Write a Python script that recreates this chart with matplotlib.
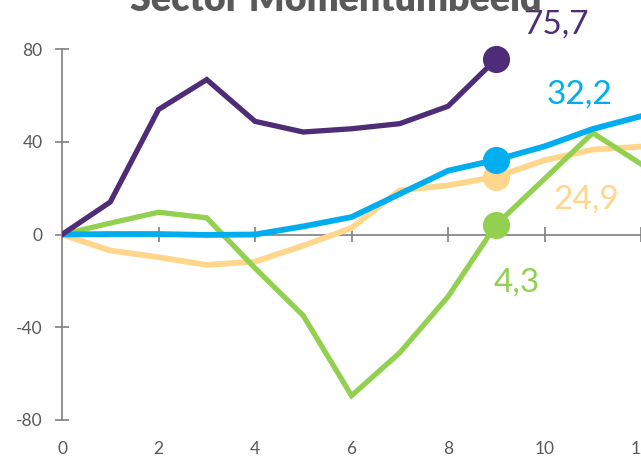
import matplotlib
matplotlib.use("Agg")
import matplotlib.pyplot as plt

plt.rcParams['font.family'] = ['Lato', 'DejaVu Sans']

title = "Sector Momentumbeeld"
x = [0, 1, 2, 3, 4, 5, 6, 7, 8, 9, 10, 11, 12]
purple = [0, 14.0, 53.9, 66.8, 48.8, 44.2, 45.6, 47.8, 55.3, 75.7]
blue = [0, 0.2, 0.2, -0.2, 0, 3.5, 7.5, 17.5, 27.5, 32.2, 38.0, 45.5, 51.0]
yellow = [0, -6.9, -9.8, -13.1, -11.7, -4.8, 2.8, 19.0, 21.2, 24.9, 32.0, 36.6, 37.9]
green = [0, 4.9, 9.6, 7.2, -14.5, -35.0, -69.5, -51.0, -26.8, 4.3, 24.0, 43.8, 30.4]
end_x = 9
end_labels = ["75,7", "32,2", "24,9", "4,3"]
yticks = [-80, -40, 0, 40, 80]
xticks = [0, 2, 4, 6, 8, 10, 12]

c_purple = "#4E2C78"
c_blue = "#00AEEF"
c_yellow = "#FFD68C"
c_green = "#92D050"

fig = plt.figure(figsize=(6.41, 4.58), dpi=100)
ax = fig.add_axes([62 / 641, 1 - 420 / 458, 1 - 62 / 641, (420 - 49) / 458])
ax.set_xlim(0, 11.88)
ax.set_ylim(-80, 80)

# zero line with tick marks
ax.axhline(0, color="#7F7F7F", lw=1.2, zorder=1)
ax.vlines(xticks[1:], -3.4, 3.4, color="#7F7F7F", lw=1.2, zorder=1)

series = [
    (yellow, c_yellow, 4.2, 2),
    (green, c_green, 3.8, 3),
    (blue, c_blue, 4.2, 4),
    (purple, c_purple, 3.8, 5),
]
for vals, col, lw, z in series:
    ax.plot(x[:len(vals)], vals, color=col, lw=lw, zorder=z, solid_joinstyle='miter')

end_vals = [purple[end_x], blue[end_x], yellow[end_x], green[end_x]]
end_cols = [c_purple, c_blue, c_yellow, c_green]
end_z = [5.5, 4.5, 2.5, 3.5]
offsets = [(19.5, 24.5), (36, 47), (41, -16.5), (-1.5, -42)]
for v, col, lab, off, z in zip(end_vals, end_cols, end_labels, offsets, end_z):
    ax.plot([end_x], [v], 'o', ms=18.5, color=col, zorder=z, clip_on=False)
    ax.annotate(lab, (end_x, v), xytext=off, textcoords='offset points',
                ha='left', va='center', fontsize=24, color=col, annotation_clip=False)

for s in ['top', 'right', 'bottom']:
    ax.spines[s].set_visible(False)
ax.spines['left'].set_color("#7F7F7F")
ax.spines['left'].set_linewidth(1.2)

ax.set_yticks(yticks)
ax.set_yticklabels([str(t) for t in yticks])
ax.set_xticks(xticks)
ax.set_xticklabels([str(t) for t in xticks])
ax.tick_params(axis='y', direction='inout', length=10, width=1.2, color="#7F7F7F",
               labelcolor="#595959", labelsize=12.5, pad=9)
ax.tick_params(axis='x', length=0, labelcolor="#595959", labelsize=12.5, pad=15)

fig.text(336 / 641, 1 - 11 / 458, title, ha='center', va='baseline',
         fontsize=27, fontweight='heavy', color="#595959")

fig.savefig("out.png", dpi=100)
